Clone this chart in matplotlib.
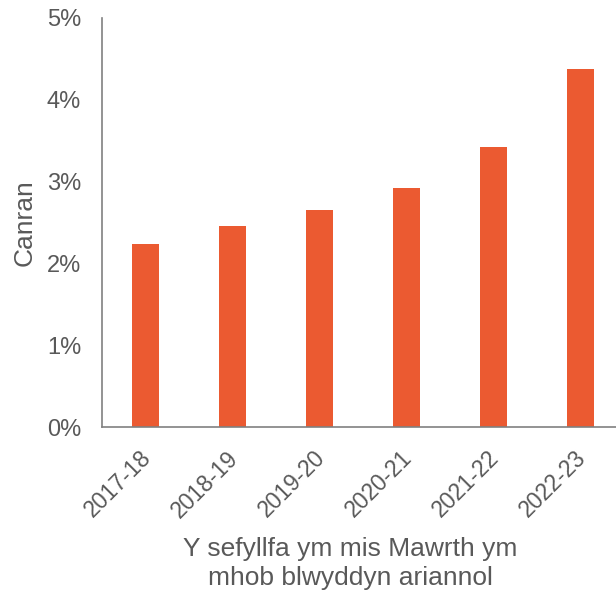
import matplotlib.pyplot as plt
import matplotlib.transforms as mtransforms
from matplotlib.ticker import FuncFormatter

years = ["2017-18", "2018-19", "2019-20", "2020-21", "2021-22", "2022-23"]
canran = [2.24, 2.46, 2.65, 2.92, 3.42, 4.38]

plt.rcParams["font.family"] = ["Liberation Sans", "DejaVu Sans"]
grey = "#595959"

fig = plt.figure(figsize=(6.16, 5.95), dpi=100)
# axes runs a little past the right edge, like the original
ax = fig.add_axes([102 / 616, 1 - 427 / 595, 522 / 616, 409 / 595])

x = range(len(years))
ax.bar(x, canran, width=0.315, color="#EB5A31")

ax.set_xlim(-0.5, 5.5)
ax.set_ylim(0, 5)
ax.set_yticks([0, 1, 2, 3, 4, 5])
ax.yaxis.set_major_formatter(FuncFormatter(lambda v, p: f"{v:.0f}%"))
ax.set_xticks(list(x))
ax.set_xticklabels(years, rotation=45, ha="right", rotation_mode="anchor")

ax.tick_params(axis="both", length=0, colors=grey)
ax.tick_params(axis="y", pad=15, labelsize=17)
ax.tick_params(axis="x", pad=14, labelsize=16.5)

# nudge the slanted year labels a bit left
shift = mtransforms.ScaledTranslation(-6 / 100, 0, fig.dpi_scale_trans)
for lbl in ax.get_xticklabels():
    lbl.set_transform(lbl.get_transform() + shift)

for s in ["top", "right"]:
    ax.spines[s].set_visible(False)
for s in ["left", "bottom"]:
    ax.spines[s].set_color("#808080")
    ax.spines[s].set_linewidth(1.2)

ax.set_ylabel("Canran", fontsize=19, color=grey)
ax.yaxis.set_label_coords((37 - 102) / 522, 0.5)
ax.set_xlabel("Y sefyllfa ym mis Mawrth ym\nmhob blwyddyn ariannol", fontsize=19, color=grey, linespacing=1.25)
ax.xaxis.set_label_coords((350 - 102) / 522, -0.27)

fig.savefig("out.png", dpi=100)
